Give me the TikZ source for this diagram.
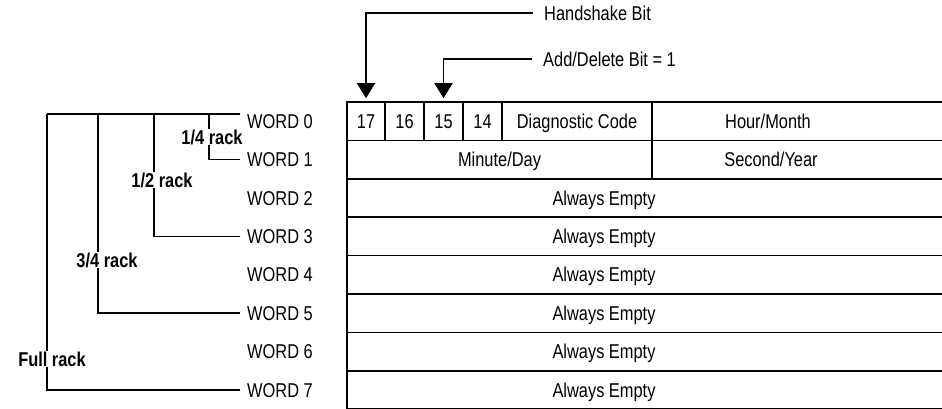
\documentclass[tikz,border=0pt]{standalone}
\usepackage{fontspec}
\setmainfont{Liberation Sans}[FakeStretch=0.82]
\usetikzlibrary{arrows.meta, calc}

\begin{document}
\begin{tikzpicture}[x=1pt, y=-1pt,
                    font=\fontsize{20}{24}\selectfont,
                    every node/.style={text height=14pt, text depth=0pt},
                    cell/.style={draw, line width=1.6pt, inner sep=0pt, minimum height=38.4pt},
                    bracket/.style={line width=1.6pt, shorten >=7pt},
                    racklbl/.style={fill=white, inner sep=1pt, font=\fontsize{20}{24}\selectfont\bfseries},
                    wordlbl/.style={anchor=west, inner sep=0pt},
                    bitlbl/.style={anchor=west, inner xsep=11pt, inner ysep=0pt},
                    bitarrow/.style={line width=1.6pt, -{Triangle[width=18pt, length=15pt]}, shorten >=3pt}]

    \useasboundingbox (0,0) rectangle (942,408);

    % word 0
    \node[cell, minimum width=38pt]  (b17)  at (366,121.2)   {17};
    \node[cell, minimum width=39pt]  (b16)  at (404.5,121.2) {16};
    \node[cell, minimum width=39pt]  (b15)  at (443.5,121.2) {15};
    \node[cell, minimum width=39pt]  (b14)  at (482.5,121.2) {14};
    \node[cell, minimum width=150pt] (diag) at (577,121.2)   {Diagnostic Code};
    \node[cell, minimum width=294pt] (hour) at (799,121.2)   {};
    \node (hourtxt) at ([xshift=-31pt]hour.center) {Hour/Month};

    % word 1
    \node[cell, minimum width=305pt] (minute) at (499.5,159.6) {Minute/Day};
    \node[cell, minimum width=294pt] (second) at (799,159.6)   {};
    \node (secondtxt) at ([xshift=-28pt]second.center) {Second/Year};

    % words 2 to 7
    \foreach \r in {2,...,7} {
        \node[cell, minimum width=599pt] (w\r) at (646.5,{121.2+38.4*\r}) {};
        \node (t\r) at ([xshift=-42.5pt]w\r.center) {Always Empty};
    }

    \foreach \r in {0,...,7}
        \node[wordlbl] (l\r) at (247,{121.2+38.4*\r}) {WORD \r};

    % rack brackets
    \coordinate (full)    at (47,114);
    \coordinate (three)   at (98,114);
    \coordinate (half)    at (154,114);
    \coordinate (quarter) at (209,114);

    \draw[bracket] (full) -- (full -| l0.west);
    \draw[bracket] (full)    |- (l7.west);
    \draw[bracket] (three)   |- (l5.west);
    \draw[bracket] (half)    |- (l3.west);
    \draw[bracket] (quarter) |- (l1.west);

    \node[racklbl] (qrack) at (212,137) {1/4 rack};
    \node[racklbl] (hrack) at (162,180) {1/2 rack};
    \node[racklbl] (track) at (107,260) {3/4 rack};
    \node[racklbl] (frack) at (52,359)  {Full rack};

    % bit pointers
    \node[bitlbl] (hs) at (533,13) {Handshake Bit};
    \node[bitlbl] (ad) at (532,59) {Add/Delete Bit = 1};

    \draw[bitarrow] (hs.west) -| (b17.north);
    \draw[bitarrow] (ad.west) -| (b15.north);
\end{tikzpicture}
\end{document}
